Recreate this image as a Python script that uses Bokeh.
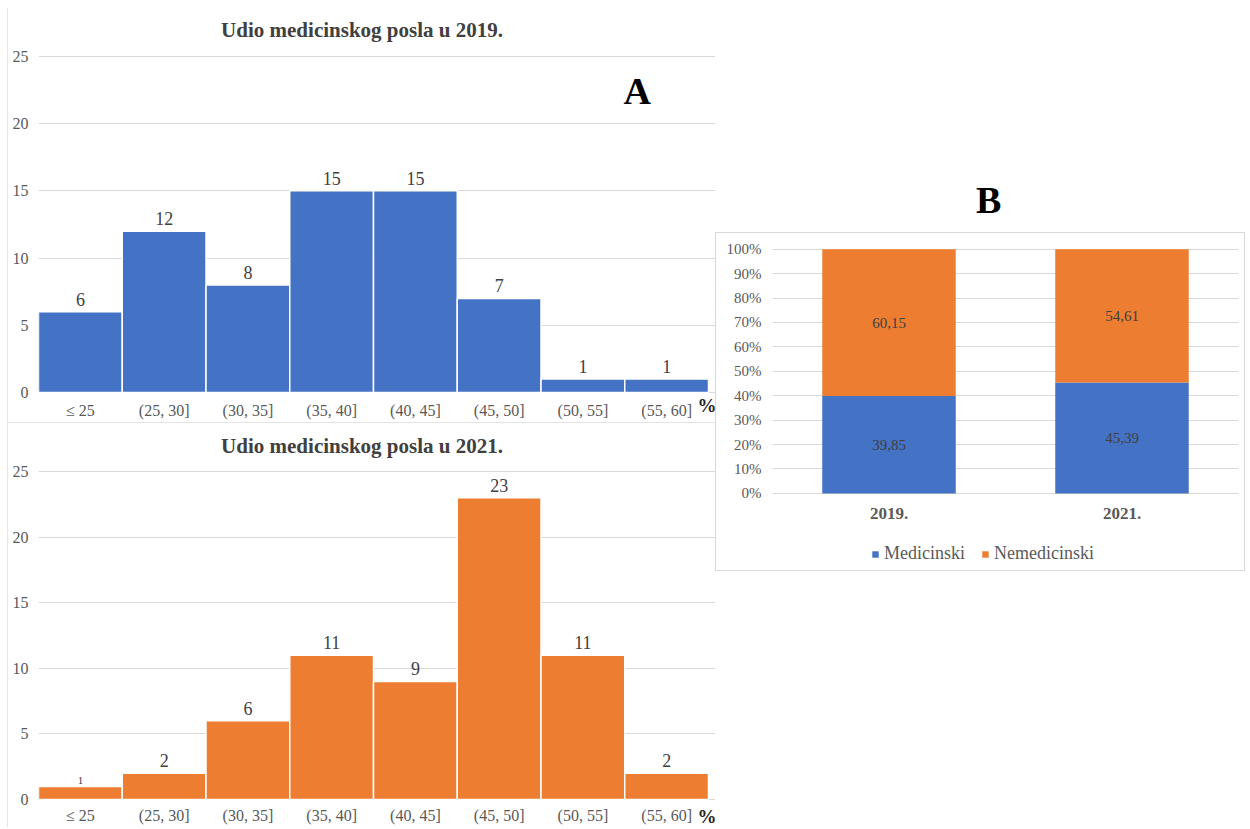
from bokeh.plotting import figure
from bokeh.models import (ColumnDataSource, FixedTicker, Label, Div, Legend,
                          LegendItem, PrintfTickFormatter, FactorRange, Range1d, Spacer)
from bokeh.layouts import row, column
from bokeh.embed import file_html
from bokeh.resources import INLINE
from bokeh.core.properties import value

# ---------------- data ----------------
bins = ["≤ 25", "(25, 30]", "(30, 35]", "(35, 40]", "(40, 45]", "(45, 50]", "(50, 55]", "(55, 60]"]
counts_2019 = [6, 12, 8, 15, 15, 7, 1, 1]
counts_2021 = [1, 2, 6, 11, 9, 23, 11, 2]
hist_y_ticks = [0, 5, 10, 15, 20, 25]

years = ["2019.", "2021."]
medicinski = [39.85, 45.39]
nemedicinski = [60.15, 54.61]
pct_ticks = [0, 10, 20, 30, 40, 50, 60, 70, 80, 90, 100]

title_2019 = "Udio medicinskog posla u 2019."
title_2021 = "Udio medicinskog posla u 2021."

BLUE = "#4472C4"
ORANGE = "#ED7D31"
SERIF = "Liberation Serif"
GRID = "#d9d9d9"
TICK = "#595959"
LAB = "#404040"


def histogram(title, counts, color, height, y_lo, y_hi, title_y, lab_y, pct_y,
              small_first=False, letter=None):
    n = len(bins)
    # the frame spans the whole canvas (apart from the y-axis) so that the title,
    # category labels and "%" unit can be drawn inside it
    p = figure(x_range=Range1d(0, n * 678 / 670), y_range=Range1d(y_lo, y_hi),
               width=708, height=height, output_backend="svg", toolbar_location=None,
               min_border_left=30, min_border_right=0, min_border_top=0,
               min_border_bottom=0)
    p.outline_line_color = None

    xs = [i + 0.5 for i in range(n)]
    p.vbar(x=xs, top=counts, width=1.0, fill_color=color, line_color="white", line_width=1.5)

    sizes = ["18px"] * n
    offs = [-6] * n
    if small_first:
        sizes[0] = "11px"
        offs[0] = -2
    src = ColumnDataSource(dict(x=xs, y=counts, t=[str(c) for c in counts], s=sizes, o=offs))
    p.text(x="x", y="y", text="t", source=src, text_align="center", text_baseline="bottom",
           y_offset="o", text_font=value(SERIF), text_font_size="s", text_color=LAB)

    # category tick labels
    p.text(x=xs, y=[lab_y] * n, text=bins, text_align="center", text_baseline="middle",
           text_font=value(SERIF), text_font_size="16px", text_color=TICK)

    p.xaxis.visible = False
    p.xgrid.visible = False
    p.ygrid.grid_line_color = GRID
    p.yaxis.ticker = FixedTicker(ticks=hist_y_ticks)
    ax = p.yaxis[0]
    ax.major_tick_line_color = None
    ax.minor_tick_line_color = None
    ax.major_tick_out = 0
    ax.major_tick_in = 0
    ax.major_label_text_font = SERIF
    ax.major_label_text_font_size = "16px"
    ax.major_label_text_color = TICK
    ax.axis_line_color = None
    ax.major_label_standoff = 10

    p.add_layout(Label(x=3.863, y=title_y, text=title, text_font=SERIF, text_font_size="21px",
                       text_font_style="bold", text_color="#404040", text_align="center",
                       text_baseline="middle"))
    p.add_layout(Label(x=n, y=pct_y, text="%", text_font=SERIF, text_font_size="19px",
                       text_font_style="bold", text_color="#262626", text_align="left",
                       text_baseline="middle", x_offset=-11))
    if letter:
        p.add_layout(Label(x=7.15, y=22.4, text=letter, text_font=SERIF, text_font_size="38px",
                           text_font_style="bold", text_color="black", text_align="center",
                           text_baseline="middle"))
    return p


top = histogram(title_2019, counts_2019, BLUE, 415, -2.31, 28.57, 26.94, -1.34, -0.97, letter="A")
top.styles = {"border-left": "1px solid #e3e3e3", "border-bottom": "1px solid #e3e3e3"}
bottom = histogram(title_2021, counts_2021, ORANGE, 404, -2.13, 28.66, 26.98, -1.22, -1.3,
                   small_first=True)
bottom.styles = {"border-left": "1px solid #e3e3e3"}

# ---------------- B: stacked percentage chart ----------------
pr = figure(x_range=FactorRange(*years), y_range=Range1d(-32.4, 100.3), width=530, height=339,
            output_backend="svg", toolbar_location=None,
            min_border_left=56, min_border_right=8, min_border_top=15, min_border_bottom=0)
pr.outline_line_color = None
src = ColumnDataSource(dict(x=years, Medicinski=medicinski, Nemedicinski=nemedicinski))
rs = pr.vbar_stack(["Medicinski", "Nemedicinski"], x="x", width=0.573, color=[BLUE, ORANGE],
                   source=src, line_color=None)

lab_y = [m / 2 for m in medicinski] + [m + n / 2 for m, n in zip(medicinski, nemedicinski)]
lab_t = [f"{v:.2f}".replace(".", ",") for v in medicinski + nemedicinski]
lab_src = ColumnDataSource(dict(x=years + years, y=lab_y, t=lab_t))
pr.text(x="x", y="y", text="t", source=lab_src, text_align="center", text_baseline="middle",
        text_font=value(SERIF), text_font_size="15px", text_color=LAB)

# category labels
pr.text(x=years, y=[-8.2] * len(years), text=years, text_align="center", text_baseline="middle",
        text_font=value(SERIF), text_font_size="17px", text_font_style="bold", text_color=TICK)

pr.xaxis.visible = False
pr.xgrid.visible = False
pr.ygrid.grid_line_color = GRID
pr.yaxis.ticker = FixedTicker(ticks=pct_ticks)
pr.yaxis.formatter = PrintfTickFormatter(format="%d%%")
ay = pr.yaxis[0]
ay.major_tick_line_color = None
ay.minor_tick_line_color = None
ay.major_tick_out = 0
ay.major_tick_in = 0
ay.major_label_text_font = SERIF
ay.major_label_text_color = TICK
ay.axis_line_color = None
ay.major_label_text_font_size = "15px"
ay.major_label_standoff = 11

legend = Legend(items=[LegendItem(label="Medicinski", renderers=[rs[0]]),
                       LegendItem(label="Nemedicinski", renderers=[rs[1]])],
                orientation="horizontal", location=(99, 8),
                label_text_font=SERIF, label_text_font_size="18px", label_text_color=TICK,
                glyph_width=8, glyph_height=8, spacing=16, border_line_color=None,
                background_fill_alpha=0, padding=4, margin=0, label_standoff=5)
pr.add_layout(legend, "center")
pr.styles = {"border": "1px solid #d9d9d9"}

bdiv = Div(text="<div style=\"padding-top:170px; padding-left:261px; text-align:left; "
                "font: bold 38px 'Liberation Serif'; line-height:44px; color:black;\">B</div>",
           width=532, height=224, margin=0)

layout = column(Spacer(height=8),
                row(Spacer(width=7), column(top, bottom), column(bdiv, pr)))
open("out.html", "w").write(file_html(layout, INLINE))
